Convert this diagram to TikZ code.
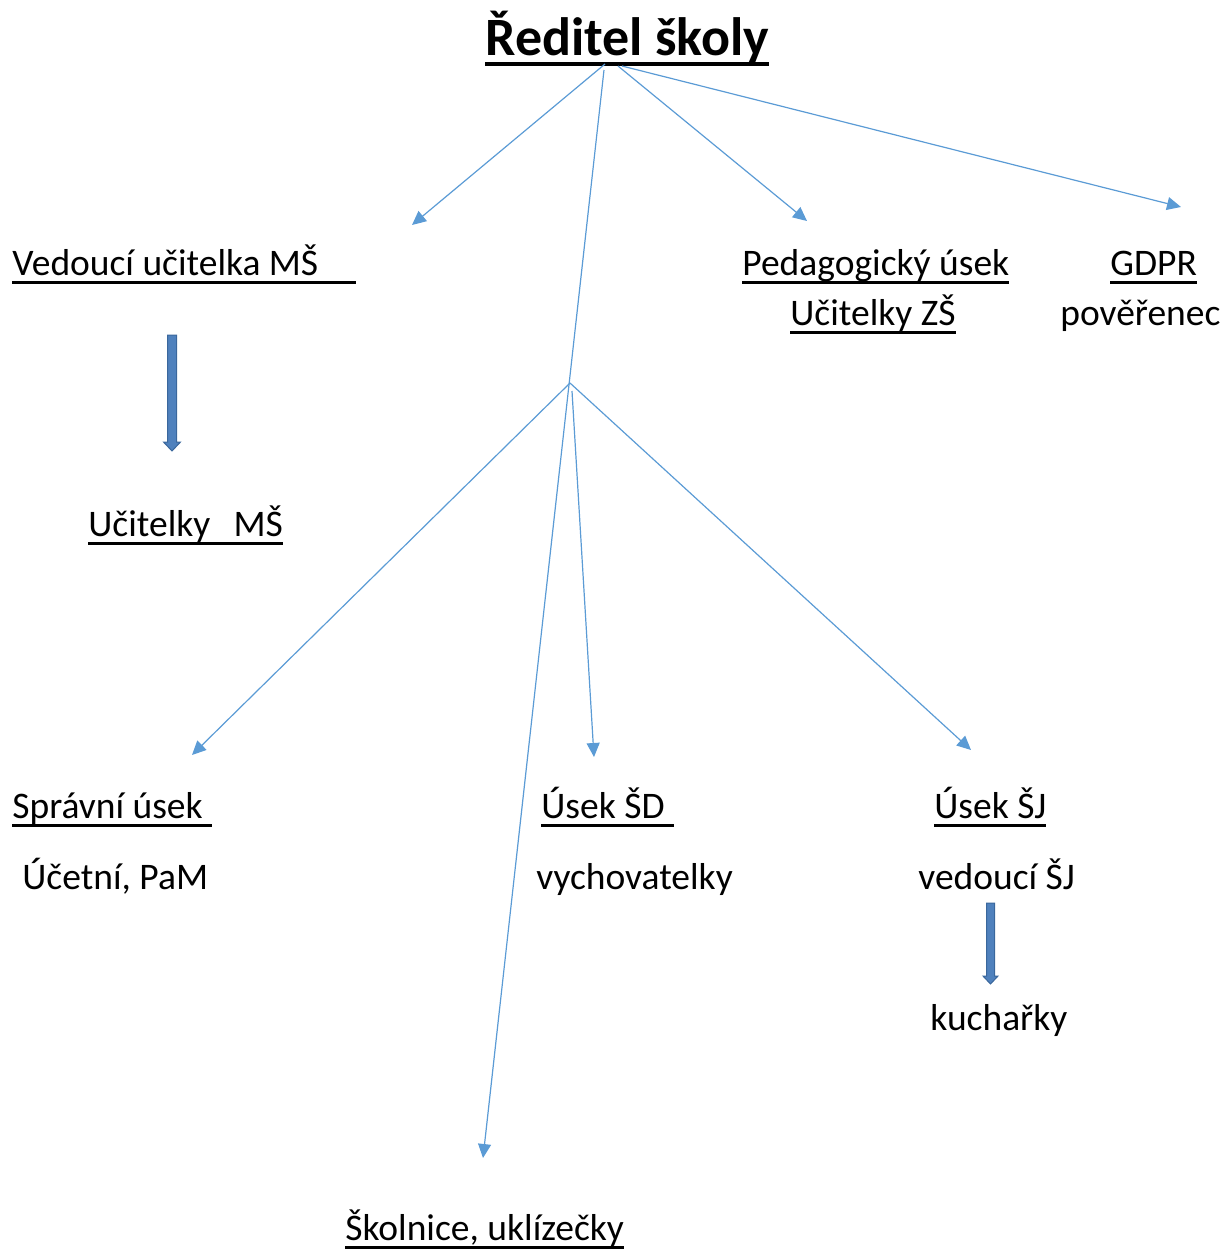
\documentclass[tikz,border=0pt]{standalone}
\usepackage{fontspec}
\setmainfont{Carlito}
\usepackage{xcolor}
\usetikzlibrary{arrows.meta}

\definecolor{linkblue}{HTML}{5B9BD5}
\definecolor{fatfill}{HTML}{4F81BD}
\definecolor{fatedge}{HTML}{3A679C}

% underline as Word draws it
\newcommand\undl[1]{\setbox0\hbox{#1}\rlap{\rule[-0.25em]{\wd0}{0.08em}}\box0}
\newcommand\undlT[1]{\setbox0\hbox{#1}\rlap{\rule[-0.2em]{\wd0}{0.075em}}\box0}

\begin{document}
\begin{tikzpicture}[
    x=0.5pt, y=-0.5pt,
    txt/.style={anchor=base west,inner sep=0pt,font=\fontsize{18.75}{22}\selectfont},
    link/.style={draw=linkblue,line width=0.6pt,
                 -{Triangle[length=7pt,width=6.5pt]}},
    fatarrow/.style={fill=fatfill,draw=fatedge,line width=0.5pt}]
  \useasboundingbox (0,0) rectangle (1223,1249);

  % title
  \node[anchor=base west,inner sep=0pt,font=\fontsize{27}{32}\bfseries\selectfont]
        (title) at (485,55) {\undlT{Ředitel školy}};

  % first level
  \node[txt] (vedMS) at (12,275) {\undl{Vedoucí učitelka MŠ\hspace{1em}}};
  \node[txt] (ucMS)  at (88,536) {\undl{Učitelky\hspace{0.62em}MŠ}};
  \node[txt] (ped)   at (742,275) {\undl{Pedagogický úsek}};
  \node[txt] (ucZS)  at (790,325) {\undl{Učitelky ZŠ}};
  \node[txt] (gdpr)  at (1110,275) {\undl{GDPR}};
  \node[txt] (pov)   at (1060,325) {pověřenec};

  % second level
  \node[txt] (sprava) at (12,818)  {\undl{Správní úsek\hspace{0.25em}}};
  \node[txt] (ucet)   at (22,889)  {Účetní, PaM};
  \node[txt] (usekSD) at (541,818) {\undl{Úsek ŠD\hspace{0.25em}}};
  \node[txt] (vych)   at (536,889) {vychovatelky};
  \node[txt] (usekSJ) at (934,818) {\undl{Úsek ŠJ}};
  \node[txt] (vedSJ)  at (918,889) {vedoucí ŠJ};
  \node[txt] (kuch)   at (930,1030) {kuchařky};
  \node[txt] (skol)   at (345,1240) {\undl{Školnice, uklízečky}};

  % connector ends
  \coordinate (tA) at (605,64);
  \coordinate (tB) at (604,70);
  \coordinate (tC) at (618,66);
  \coordinate (tD) at (622,66);
  \coordinate (fork) at (570,383);
  \coordinate (forkB) at (572,391);
  \coordinate (toVed)  at (412,225);
  \coordinate (toPed)  at (807,221);
  \coordinate (toGdpr) at (1181,207);
  \coordinate (toSkol) at (483,1158);
  \coordinate (toSpr)  at (192,755);
  \coordinate (toSD)   at (594,757);
  \coordinate (toSJ)   at (971,750);

  \draw[link] (tA) -- (toVed);
  \draw[link] (tC) -- (toPed);
  \draw[link] (tD) -- (toGdpr);
  \draw[link] (tB) -- (toSkol);
  \draw[link] (fork) -- (toSpr);
  \draw[link] (forkB) -- (toSD);
  \draw[link] (fork) -- (toSJ);

  % fat arrows
  \draw[fatarrow,shift={(172,335)}] (-4.5,0) -- (4.5,0) -- (4.5,107) -- (8.5,107)
        -- (0,116) -- (-8.5,107) -- (-4.5,107) -- cycle;
  \draw[fatarrow,shift={(990.5,903)}] (-4,0) -- (4,0) -- (4,73) -- (7.5,73)
        -- (0,81) -- (-7.5,73) -- (-4,73) -- cycle;
\end{tikzpicture}
\end{document}
